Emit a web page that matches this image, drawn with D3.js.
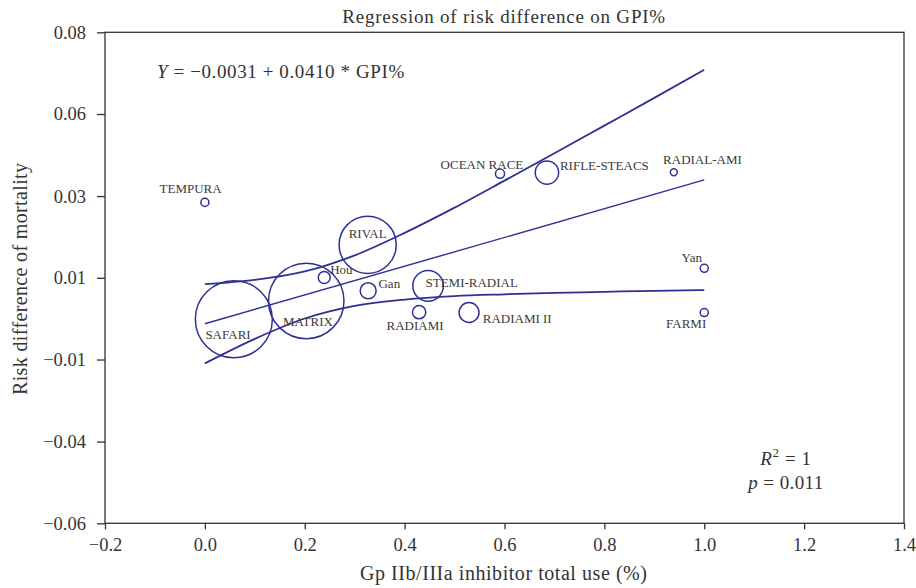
<!DOCTYPE html>
<html><head><meta charset="utf-8">
<script src="https://cdn.jsdelivr.net/npm/d3@7"></script>
<style>body{margin:0;background:#fff}svg{display:block}</style>
</head><body>
<svg id="c" width="916" height="588"></svg>
<script>
const studies = ["TEMPURA","SAFARI","MATRIX","RIVAL","Hou","Gan","STEMI-RADIAL","RADIAMI","RADIAMI II","OCEAN RACE","RIFLE-STEACS","RADIAL-AMI","Yan","FARMI"];
const gpiUse = [0.0, 0.058, 0.203, 0.326, 0.239, 0.327, 0.447, 0.429, 0.529, 0.591, 0.685, 0.939, 1.0, 1.0];
const riskDiff = [0.0315, -0.0018, 0.0034, 0.0194, 0.0101, 0.0063, 0.0077, 0.0002, 0.0001, 0.0397, 0.0400, 0.0401, 0.0127, 0.0001];
const weights = [1.1, 100, 96, 55, 2.4, 4.3, 15.8, 3.0, 6.7, 1.4, 9.2, 0.8, 1.1, 1.1];

const intercept = -0.0031, slope = 0.0410;
const bandX = [0, 0.1, 0.2, 0.3, 0.4, 0.5, 0.6, 0.7, 0.8, 0.9, 1.0];
const bandUpper = [0.0082, 0.0094, 0.0118, 0.0164, 0.0228, 0.0300, 0.0377, 0.0455, 0.0534, 0.0613, 0.0693];
const bandLower = [-0.0144, -0.0074, -0.0016, 0.0020, 0.0038, 0.0048, 0.0053, 0.0057, 0.0060, 0.0063, 0.0065];

const xTicks = [-0.2, 0.0, 0.2, 0.4, 0.6, 0.8, 1.0, 1.2, 1.4];
const xTickLabels = ["\u22120.2","0.0","0.2","0.4","0.6","0.8","1.0","1.2","1.4"];
const yTicks = [-0.06, -0.0367, -0.0133, 0.01, 0.0333, 0.0567, 0.08];
const yTickLabels = ["\u22120.06","\u22120.04","\u22120.01","0.01","0.03","0.06","0.08"];

const title = "Regression of risk difference on GPI%";
const xTitle = "Gp IIb/IIIa inhibitor total use (%)";
const yTitle = "Risk difference of mortality";

// label placement (style only)
const labelPos = {
  "TEMPURA":[-14.3,-9,"middle"], "SAFARI":[-5.8,19.8,"middle"], "MATRIX":[1.7,25,"middle"],
  "RIVAL":[0,-6.7,"middle"], "Hou":[6,-3.3,"start"], "Gan":[10.3,-3,"start"],
  "STEMI-RADIAL":[-2.6,1,"start"], "RADIAMI":[-4,17.7,"middle"], "RADIAMI II":[13.7,10.6,"start"],
  "OCEAN RACE":[23.3,-4.7,"end"], "RIFLE-STEACS":[13,-3,"start"], "RADIAL-AMI":[-10.7,-8.3,"start"],
  "Yan":[-2.3,-6,"end"], "FARMI":[2,15.6,"end"]
};

const FONT = "'Liberation Serif','DejaVu Serif',serif";
const BLUE = "#2E3192", INK = "#333";
const svg = d3.select("#c");
const L=105, R=904, T=32.3, B=523.3;
const x = d3.scaleLinear().domain([-0.2,1.4]).range([L,R]);
const y = d3.scaleLinear().domain([-0.06,0.08]).range([B,T]);
const r = d3.scaleSqrt().domain([0,100]).range([0,38.5]);

// axes
const gx = svg.append("g").attr("transform",`translate(0,${B})`)
  .call(d3.axisBottom(x).tickValues(xTicks).tickSize(6).tickPadding(9)
    .tickFormat((d,i)=>xTickLabels[i]));
const gy = svg.append("g").attr("transform",`translate(${L},0)`)
  .call(d3.axisLeft(y).tickValues(yTicks).tickSize(8).tickPadding(11)
    .tickFormat((d,i)=>yTickLabels[i]));
[gx,gy].forEach(g=>{
  g.select(".domain").remove();
  g.selectAll("line").attr("stroke",INK).attr("stroke-width",1.3);
  g.selectAll("text").attr("fill",INK).style("font-family",FONT).style("font-size","18.5px");
});
svg.append("rect").attr("x",L).attr("y",T).attr("width",R-L).attr("height",B-T)
  .attr("fill","none").attr("stroke",INK).attr("stroke-width",1.3);

// bands and fit
const line = d3.line().x(d=>x(d[0])).y(d=>y(d[1])).curve(d3.curveMonotoneX);
svg.append("path").attr("d",line(bandX.map((v,i)=>[v,bandUpper[i]])))
  .attr("fill","none").attr("stroke",BLUE).attr("stroke-width",1.8);
svg.append("path").attr("d",line(bandX.map((v,i)=>[v,bandLower[i]])))
  .attr("fill","none").attr("stroke",BLUE).attr("stroke-width",1.8);
svg.append("path").attr("d",line([0,1].map(v=>[v,intercept+slope*v])))
  .attr("fill","none").attr("stroke",BLUE).attr("stroke-width",1.4);

// bubbles
studies.forEach((s,i)=>{
  svg.append("circle").attr("cx",x(gpiUse[i])).attr("cy",y(riskDiff[i])).attr("r",r(weights[i]))
    .attr("fill","none").attr("stroke",BLUE).attr("stroke-width",1.5);
});
studies.forEach((s,i)=>{
  const p = labelPos[s];
  svg.append("text").attr("x",x(gpiUse[i])+p[0]).attr("y",y(riskDiff[i])+p[1])
    .attr("text-anchor",p[2]).attr("fill","#3a3a3a")
    .style("font-family",FONT).style("font-size","13px").text(s);
});

// texts
svg.append("text").attr("x",503.7).attr("y",22.5).attr("text-anchor","middle").attr("fill",INK)
  .attr("textLength",323).attr("lengthAdjust","spacing")
  .style("font-family",FONT).style("font-size","19px").text(title);
svg.append("text").attr("x",503.5).attr("y",580).attr("text-anchor","middle").attr("fill",INK)
  .attr("textLength",287).attr("lengthAdjust","spacing")
  .style("font-family",FONT).style("font-size","20px").text(xTitle);
svg.append("text").attr("transform","translate(27,279) rotate(-90)").attr("text-anchor","middle").attr("fill",INK)
  .attr("textLength",232).attr("lengthAdjust","spacing")
  .style("font-family",FONT).style("font-size","20px").text(yTitle);

const eq = svg.append("text").attr("x",157).attr("y",78.3).attr("fill",INK)
  .style("font-family",FONT).style("font-size","19px").style("letter-spacing","0.6px");
eq.append("tspan").style("font-style","italic").text("Y");
eq.append("tspan").text(" = \u22120.0031 + 0.0410 * GPI%");

const r2 = svg.append("text").attr("x",786).attr("y",465).attr("text-anchor","middle").attr("fill",INK)
  .style("font-family",FONT).style("font-size","19px").style("letter-spacing","0.6px");
r2.append("tspan").style("font-style","italic").text("R");
r2.append("tspan").attr("dy",-8).style("font-size","13px").text("2");
r2.append("tspan").attr("dy",8).text(" = 1");
const pv = svg.append("text").attr("x",786).attr("y",489).attr("text-anchor","middle").attr("fill",INK)
  .style("font-family",FONT).style("font-size","19px").style("letter-spacing","0.4px");
pv.append("tspan").style("font-style","italic").text("p");
pv.append("tspan").text(" = 0.011");
</script>
</body></html>
